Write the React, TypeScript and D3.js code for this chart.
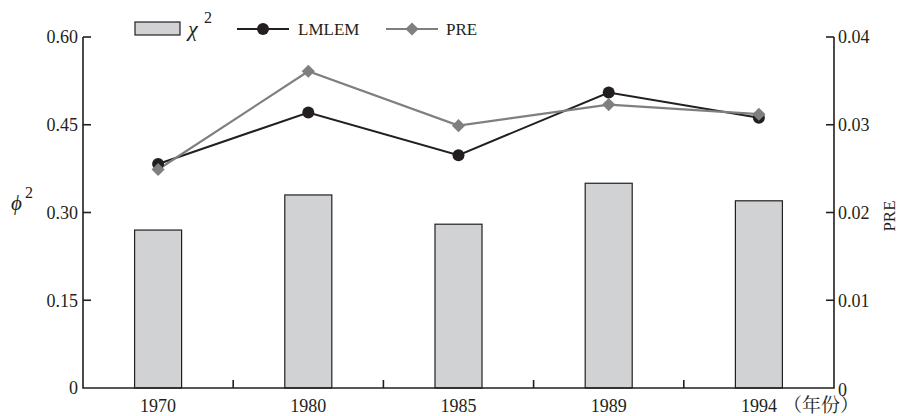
import React from "react";
import * as d3 from "d3";

const years = ["1970", "1980", "1985", "1989", "1994"];
const chi2 = [0.27, 0.33, 0.28, 0.35, 0.32];
const lmlem = [0.383, 0.471, 0.398, 0.505, 0.462];
const pre = [0.0249, 0.0361, 0.0299, 0.0323, 0.0312];
const leftTicks = [0, 0.15, 0.3, 0.45, 0.6];
const leftTickLabels = ["0", "0.15", "0.30", "0.45", "0.60"];
const rightTicks = [0, 0.01, 0.02, 0.03, 0.04];
const rightTickLabels = ["0", "0.01", "0.02", "0.03", "0.04"];

const W = 899;
const H = 416;
const L = 83;
const R = 834;
const T = 37;
const B = 388;
const INK = "#231f20";
const GREY = "#7f7f7f";
const SERIF = "Liberation Serif";
const CJK = "Noto Serif CJK SC";

export default function App() {
  const x = d3.scaleBand<string>().domain(years).range([L, R]).paddingInner(0.687).paddingOuter(0.3435);
  const yL = d3.scaleLinear().domain([0, 0.6]).range([B, T]);
  const yR = d3.scaleLinear().domain([0, 0.04]).range([B, T]);
  const cx = (i: number) => (x(years[i]) as number) + x.bandwidth() / 2;
  const gap = (x.step() - x.bandwidth()) / 2;

  const lineL = d3.line<number>().x((_, i) => cx(i)).y((d) => yL(d));
  const lineR = d3.line<number>().x((_, i) => cx(i)).y((d) => yR(d));
  const diamond = d3.symbol().type(d3.symbolDiamond2).size(110)();

  return (
    <svg width={W} height={H} style={{ position: "absolute", left: 0, top: 0, fontFamily: SERIF }}>
      <rect width={W} height={H} fill="#fff" />
      {/* bars */}
      {chi2.map((v, i) => (
        <rect key={i} x={x(years[i])} y={yL(v)} width={x.bandwidth()} height={B - yL(v)} fill="#d1d2d4" stroke={INK} strokeWidth={1.2} />
      ))}
      {/* axes */}
      <path d={`M${L},${T}V${B}H${R}V${T}`} fill="none" stroke={INK} strokeWidth={1.6} />
      {leftTicks.map((t, i) => (
        <g key={"l" + i}>
          {t > 0 && <line x1={L} x2={L + 8} y1={yL(t)} y2={yL(t)} stroke={INK} strokeWidth={1.6} />}
          <text x={L - 5} y={yL(t)} dy="0.35em" textAnchor="end" fontSize={18} fill={INK} style={{ fontFamily: SERIF }}>{leftTickLabels[i]}</text>
        </g>
      ))}
      {rightTicks.map((t, i) => (
        <g key={"r" + i}>
          {t > 0 && <line x1={R} x2={R - 8} y1={yR(t)} y2={yR(t)} stroke={INK} strokeWidth={1.6} />}
          <text x={R + 4} y={yR(t) + (t === 0 ? 2 : 0)} dy="0.35em" textAnchor="start" fontSize={18} fill={INK} style={{ fontFamily: SERIF }}>{rightTickLabels[i]}</text>
        </g>
      ))}
      {years.slice(1).map((yr) => (
        <line key={"xt" + yr} x1={(x(yr) as number) - gap} x2={(x(yr) as number) - gap} y1={B} y2={B - 8} stroke={INK} strokeWidth={1.6} />
      ))}
      {years.map((yr, i) => (
        <text key={"xl" + yr} x={cx(i)} y={412} textAnchor="middle" fontSize={18} fill={INK} style={{ fontFamily: SERIF }}>{yr}</text>
      ))}
      <text x={783} y={412} fontSize={19} fill={INK} style={{ fontFamily: CJK }}>（年份）</text>
      {/* axis titles */}
      <text x={11} y={210} fontSize={21} fontStyle="italic" fill={INK} style={{ fontFamily: SERIF }}>ϕ</text>
      <text x={25} y={198} fontSize={16} fill={INK} style={{ fontFamily: SERIF }}>2</text>
      <text transform="translate(895,216) rotate(-90)" textAnchor="middle" fontSize={17} fill={INK} style={{ fontFamily: SERIF }}>PRE</text>
      {/* lines */}
      <path d={lineL(lmlem) as string} fill="none" stroke={INK} strokeWidth={2} />
      <path d={lineR(pre) as string} fill="none" stroke={GREY} strokeWidth={2.2} />
      {lmlem.map((v, i) => (
        <circle key={"c" + i} cx={cx(i)} cy={yL(v)} r={6} fill={INK} />
      ))}
      {pre.map((v, i) => (
        <path key={"d" + i} d={diamond as string} transform={`translate(${cx(i)},${yR(v)})`} fill={GREY} />
      ))}
      {/* legend */}
      <rect x={135} y={22} width={45} height={13} fill="#d1d2d4" stroke={INK} strokeWidth={1.2} />
      <text x={188} y={36} fontSize={22} fontStyle="italic" fill={INK} style={{ fontFamily: SERIF }}>χ</text>
      <text x={204} y={23} fontSize={16} fill={INK} style={{ fontFamily: SERIF }}>2</text>
      <line x1={237} x2={289} y1={29} y2={29} stroke={INK} strokeWidth={2} />
      <circle cx={263} cy={29} r={6} fill={INK} />
      <text x={298} y={35} fontSize={17} fill={INK} style={{ fontFamily: SERIF }}>LMLEM</text>
      <line x1={386} x2={438} y1={29} y2={29} stroke={GREY} strokeWidth={2.2} />
      <path d={diamond as string} transform="translate(412,29)" fill={GREY} />
      <text x={446} y={35} fontSize={17} fill={INK} style={{ fontFamily: SERIF }}>PRE</text>
    </svg>
  );
}
